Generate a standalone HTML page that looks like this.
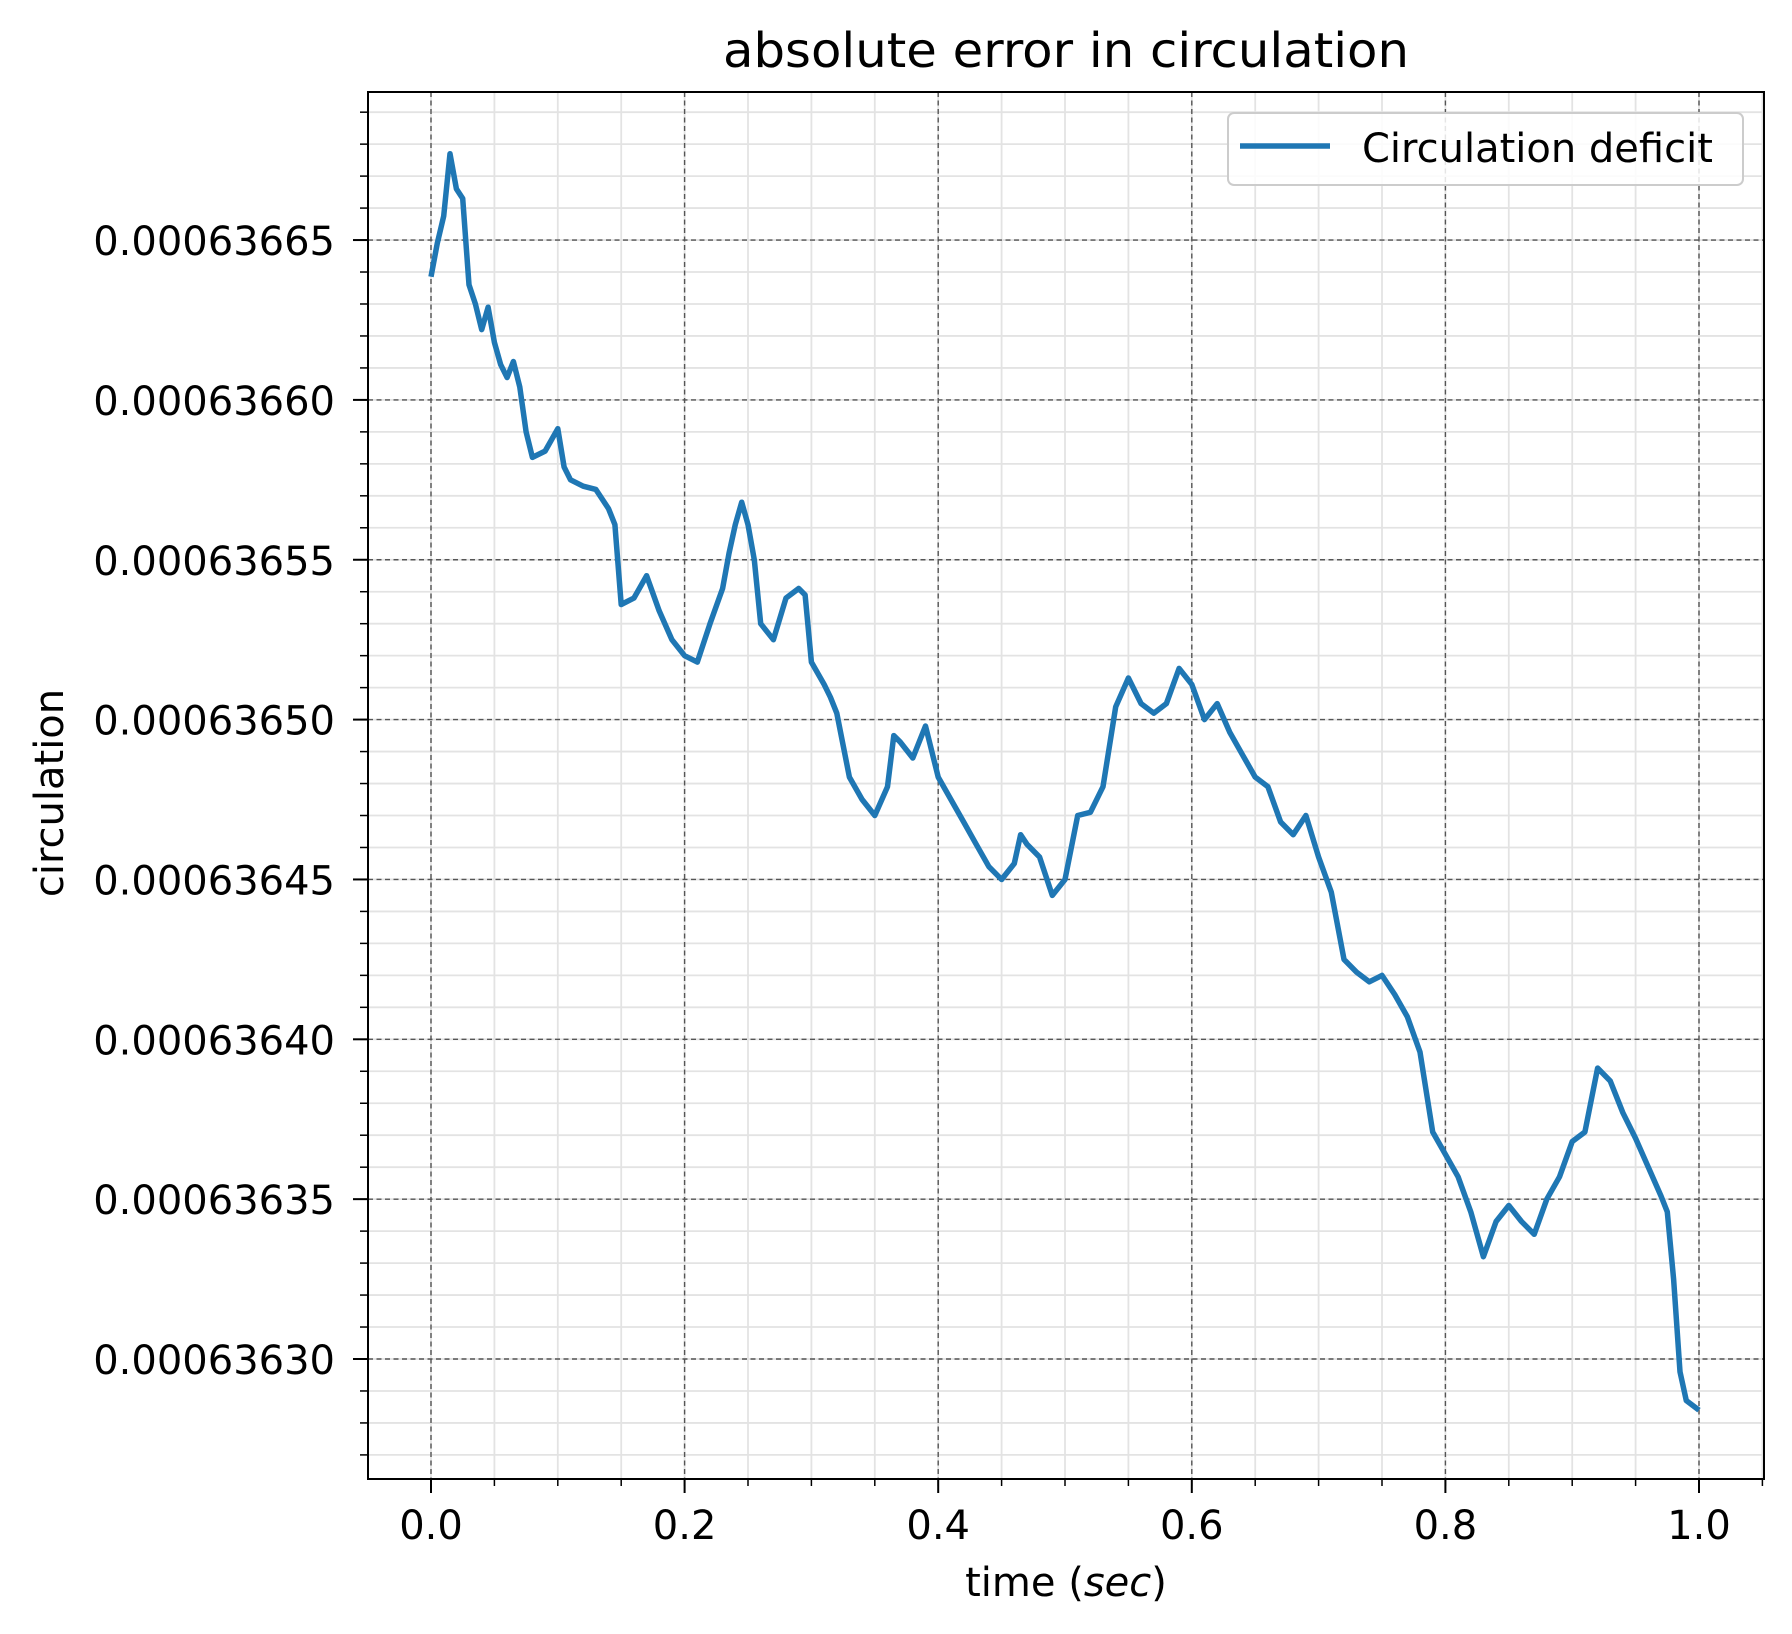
<!DOCTYPE html>
<html><head><meta charset="utf-8"><style>
html,body{margin:0;padding:0;background:#fff;}
svg{display:block;font-family:"DejaVu Sans","Liberation Sans",sans-serif;}
</style></head><body>
<svg id="chart" width="1792" height="1634" viewBox="0 0 1792 1634" xmlns="http://www.w3.org/2000/svg">
<rect width="1792" height="1634" fill="#fff"/>
<g id="grid"></g><g id="series"></g><g id="axes"></g>
</svg>
<script>
const xs=[0,0.005,0.01,0.015,0.02,0.025,0.03,0.035,0.04,0.045,0.05,0.055,0.06,0.065,0.07,0.075,0.08,0.09,0.1,0.105,0.11,0.12,0.13,0.14,0.145,0.15,0.16,0.17,0.18,0.19,0.2,0.21,0.22,0.23,0.235,0.24,0.245,0.25,0.255,0.26,0.27,0.28,0.29,0.295,0.3,0.31,0.315,0.32,0.33,0.34,0.35,0.36,0.365,0.37,0.38,0.39,0.4,0.41,0.42,0.43,0.44,0.45,0.46,0.465,0.47,0.48,0.49,0.5,0.51,0.52,0.53,0.54,0.55,0.56,0.57,0.58,0.59,0.6,0.61,0.62,0.63,0.64,0.65,0.66,0.67,0.68,0.69,0.7,0.71,0.72,0.73,0.74,0.75,0.76,0.77,0.78,0.79,0.8,0.81,0.82,0.83,0.84,0.85,0.86,0.87,0.88,0.89,0.9,0.91,0.92,0.93,0.94,0.95,0.96,0.97,0.975,0.98,0.985,0.99,1.0];
// values in units of 1e-8 above 0.000636
const vals=[63.85,64.9,65.75,67.7,66.6,66.3,63.6,63,62.2,62.9,61.8,61.1,60.7,61.2,60.4,59,58.2,58.4,59.1,57.9,57.5,57.3,57.2,56.6,56.1,53.6,53.8,54.5,53.4,52.5,52,51.8,53,54.1,55.2,56.1,56.8,56.1,55,53,52.5,53.8,54.1,53.9,51.8,51.1,50.7,50.2,48.2,47.5,47,47.9,49.5,49.3,48.8,49.8,48.2,47.5,46.8,46.1,45.4,45,45.5,46.4,46.1,45.7,44.5,45,47,47.1,47.9,50.4,51.3,50.5,50.2,50.5,51.6,51.1,50,50.5,49.6,48.9,48.2,47.9,46.8,46.4,47,45.7,44.6,42.5,42.1,41.8,42,41.4,40.7,39.6,37.1,36.4,35.7,34.6,33.2,34.3,34.8,34.3,33.9,35,35.7,36.8,37.1,39.1,38.7,37.7,36.9,36,35.1,34.6,32.5,29.6,28.7,28.4];
const xTicks=[0,0.2,0.4,0.6,0.8,1.0];
const xTickLabels=["0.0","0.2","0.4","0.6","0.8","1.0"];
const yTicks=[30,35,40,45,50,55,60,65];
const yTickLabels=["0.00063630","0.00063635","0.00063640","0.00063645","0.00063650","0.00063655","0.00063660","0.00063665"];

const L=368,R=1764,T=92,B=1479;
const X=v=>431+v*1268;
const Y=v=>1359-(v-30)*31.97;
const NS="http://www.w3.org/2000/svg";
function mk(p,tag,at,txt){const e=document.createElementNS(NS,tag);for(const k in at)e.setAttribute(k,at[k]);if(txt!=null)e.textContent=txt;p.appendChild(e);return e;}
const grid=document.getElementById('grid'),ser=document.getElementById('series'),ax=document.getElementById('axes');
for(let i=-1;i<=21;i++){const v=i*0.05;const x=X(v);if(x<L||x>R)continue;
 const g=mk(grid,'line',{x1:x,x2:x,y1:T,y2:B,stroke:'#e3e3e3','stroke-width':1.8});
 
 
 const t=mk(ax,'line',{x1:x,x2:x,y1:B,y2:B+7,stroke:'#000','stroke-width':1.5});
 
 }
for(let v=26;v<=70;v++){const y=Y(v);if(y<T||y>B)continue;
 const g=mk(grid,'line',{x1:L,x2:R,y1:y,y2:y,stroke:'#e3e3e3','stroke-width':1.8});
 
 
 const t=mk(ax,'line',{x1:L-8,x2:L,y1:y,y2:y,stroke:'#000','stroke-width':1.5});
 
 }
xTicks.forEach((v,i)=>{const x=X(v);
 const g=mk(grid,'line',{x1:x,x2:x,y1:T,y2:B,stroke:'#555','stroke-width':1.4,'stroke-dasharray':'5,3.5'});
 
 
 const t=mk(ax,'line',{x1:x,x2:x,y1:B,y2:B+14,stroke:'#000','stroke-width':2});
 
 
 const l=mk(ax,'text',{x:x,y:1539,'font-size':40,'text-anchor':'middle'},xTickLabels[i]);
 
 });
yTicks.forEach((v,i)=>{const y=Y(v);
 const g=mk(grid,'line',{x1:L,x2:R,y1:y,y2:y,stroke:'#555','stroke-width':1.4,'stroke-dasharray':'5,3.5'});
 
 
 const t=mk(ax,'line',{x1:L-15,x2:L,y1:y,y2:y,stroke:'#000','stroke-width':2});
 
 
 const l=mk(ax,'text',{x:L-33,y:y+15,'font-size':40,'text-anchor':'end'},yTickLabels[i]);
 
 });
const pts=xs.map((x,i)=>X(x).toFixed(1)+','+Y(vals[i]).toFixed(1)).join(' ');
const line=mk(ser,'polyline',{points:pts,fill:'none',stroke:'#1f77b4','stroke-width':5.5,'stroke-linejoin':'round'});


const f=mk(ax,'rect',{x:L,y:T,width:R-L,height:B-T,fill:'none',stroke:'#000','stroke-width':2});


const ti=mk(ax,'text',{x:723,y:67,'font-size':48,textLength:686,lengthAdjust:'spacingAndGlyphs'},'absolute error in circulation');


const xl=mk(ax,'text',{x:1066,y:1596,'font-size':40,'text-anchor':'middle'});
xl.innerHTML='time (<tspan font-style="italic">sec</tspan>)';


const yl=mk(ax,'text',{x:0,y:0,'font-size':40,'text-anchor':'middle',transform:'translate(63,793) rotate(-90)'},'circulation');


const lg=mk(ax,'g',{});


mk(lg,'rect',{x:1228,y:113,width:515,height:72,rx:6,fill:'#fff','fill-opacity':0.85,stroke:'#ccc','stroke-width':2});
const ll=mk(lg,'line',{x1:1240,x2:1330,y1:146,y2:146,stroke:'#1f77b4','stroke-width':5.5});


const lt=mk(lg,'text',{x:1362,y:162,'font-size':40},'Circulation deficit');


</script>
</body></html>
